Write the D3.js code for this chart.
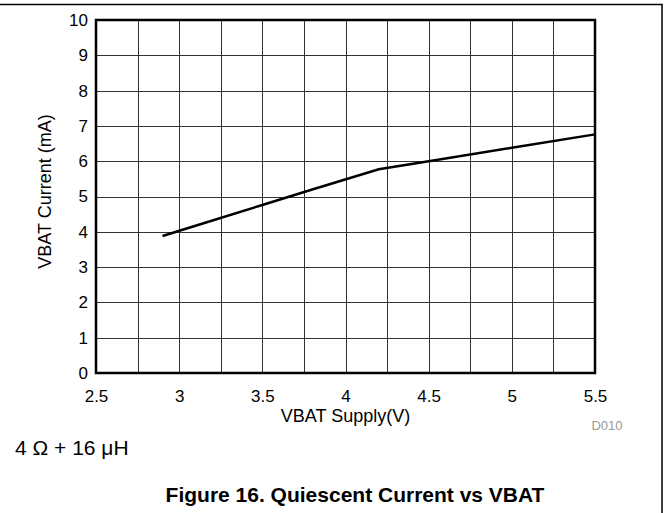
<!DOCTYPE html>
<html><head><meta charset="utf-8">
<script src="https://cdn.jsdelivr.net/npm/d3@7"></script>
<style>body{margin:0;background:#fff}svg{display:block;font-family:"Liberation Sans",Arial,sans-serif}</style>
</head><body>
<script>
const supplyV = [2.9, 3.2, 3.5, 3.8, 4.2, 4.5, 5.0, 5.5];
const currentMA = [3.88, 4.32, 4.76, 5.2, 5.77, 6.0, 6.38, 6.76];
const xTicks = [2.5, 3, 3.5, 4, 4.5, 5, 5.5];
const yTicks = [0,1,2,3,4,5,6,7,8,9,10];
const xGrid = d3.range(2.5, 5.5001, 0.25);

const W = 669, H = 513;
const m = {left:96, right:595, top:20, bottom:373};
const svg = d3.select("body").append("svg").attr("width", W).attr("height", H);

const x = d3.scaleLinear().domain([2.5, 5.5]).range([m.left, m.right]);
const y = d3.scaleLinear().domain([0, 10]).range([m.bottom, m.top]);

// outer frame
svg.append("line").attr("x1",0).attr("x2",662.5).attr("y1",4.5).attr("y2",4.5).attr("stroke","#000").attr("stroke-width",1.5);
svg.append("line").attr("x1",662).attr("x2",662).attr("y1",4).attr("y2",H).attr("stroke","#000").attr("stroke-width",1.5);

// grid
const g = svg.append("g");
g.selectAll("line.vx").data(xGrid).join("line")
  .attr("x1", d => Math.round(x(d))+0.5).attr("x2", d => Math.round(x(d))+0.5)
  .attr("y1", m.top).attr("y2", m.bottom).attr("stroke","#333").attr("stroke-width",1);
g.selectAll("line.hy").data(yTicks).join("line")
  .attr("y1", d => Math.round(y(d))+0.5).attr("y2", d => Math.round(y(d))+0.5)
  .attr("x1", m.left).attr("x2", m.right).attr("stroke","#333").attr("stroke-width",1);

// plot border
svg.append("rect").attr("x", m.left).attr("y", m.top).attr("width", m.right-m.left).attr("height", m.bottom-m.top)
  .attr("fill","none").attr("stroke","#000").attr("stroke-width",2.5);

// axes (labels only)
const xAxis = d3.axisBottom(x).tickValues(xTicks).tickSize(0).tickPadding(17).tickFormat(d3.format("~g"));
const xa = svg.append("g").attr("transform",`translate(0,${m.bottom})`).call(xAxis);
xa.select(".domain").remove();
xa.selectAll("text").attr("font-size",17).attr("fill","#000").attr("font-family","Liberation Sans, Arial, sans-serif");

const yAxis = d3.axisLeft(y).tickValues(yTicks).tickSize(0).tickPadding(8);
const ya = svg.append("g").attr("transform",`translate(${m.left},0)`).call(yAxis);
ya.select(".domain").remove();
ya.selectAll("text").attr("font-size",17).attr("fill","#000").attr("font-family","Liberation Sans, Arial, sans-serif");

// data line
svg.append("path").datum(supplyV.map((v,i)=>[v,currentMA[i]]))
  .attr("d", d3.line().x(d=>x(d[0])).y(d=>y(d[1])))
  .attr("fill","none").attr("stroke","#000").attr("stroke-width",2.5);

// axis titles
svg.append("text").attr("x",(m.left+m.right)/2).attr("y",422).attr("text-anchor","middle")
  .attr("font-size",18).text("VBAT Supply(V)");
svg.append("text").attr("transform",`translate(51,${(m.top+m.bottom)/2-5}) rotate(-90)`).attr("text-anchor","middle")
  .attr("font-size",18).text("VBAT Current (mA)");
svg.append("text").attr("x",607).attr("y",430).attr("text-anchor","middle")
  .attr("font-size",13).attr("fill","#999").text("D010");
svg.append("text").attr("x",15).attr("y",455).attr("font-size",21).text("4 Ω + 16 μH");
svg.append("text").attr("x",355).attr("y",502).attr("text-anchor","middle")
  .attr("font-size",21).attr("font-weight","bold").text("Figure 16. Quiescent Current vs VBAT");
</script>
</body></html>
